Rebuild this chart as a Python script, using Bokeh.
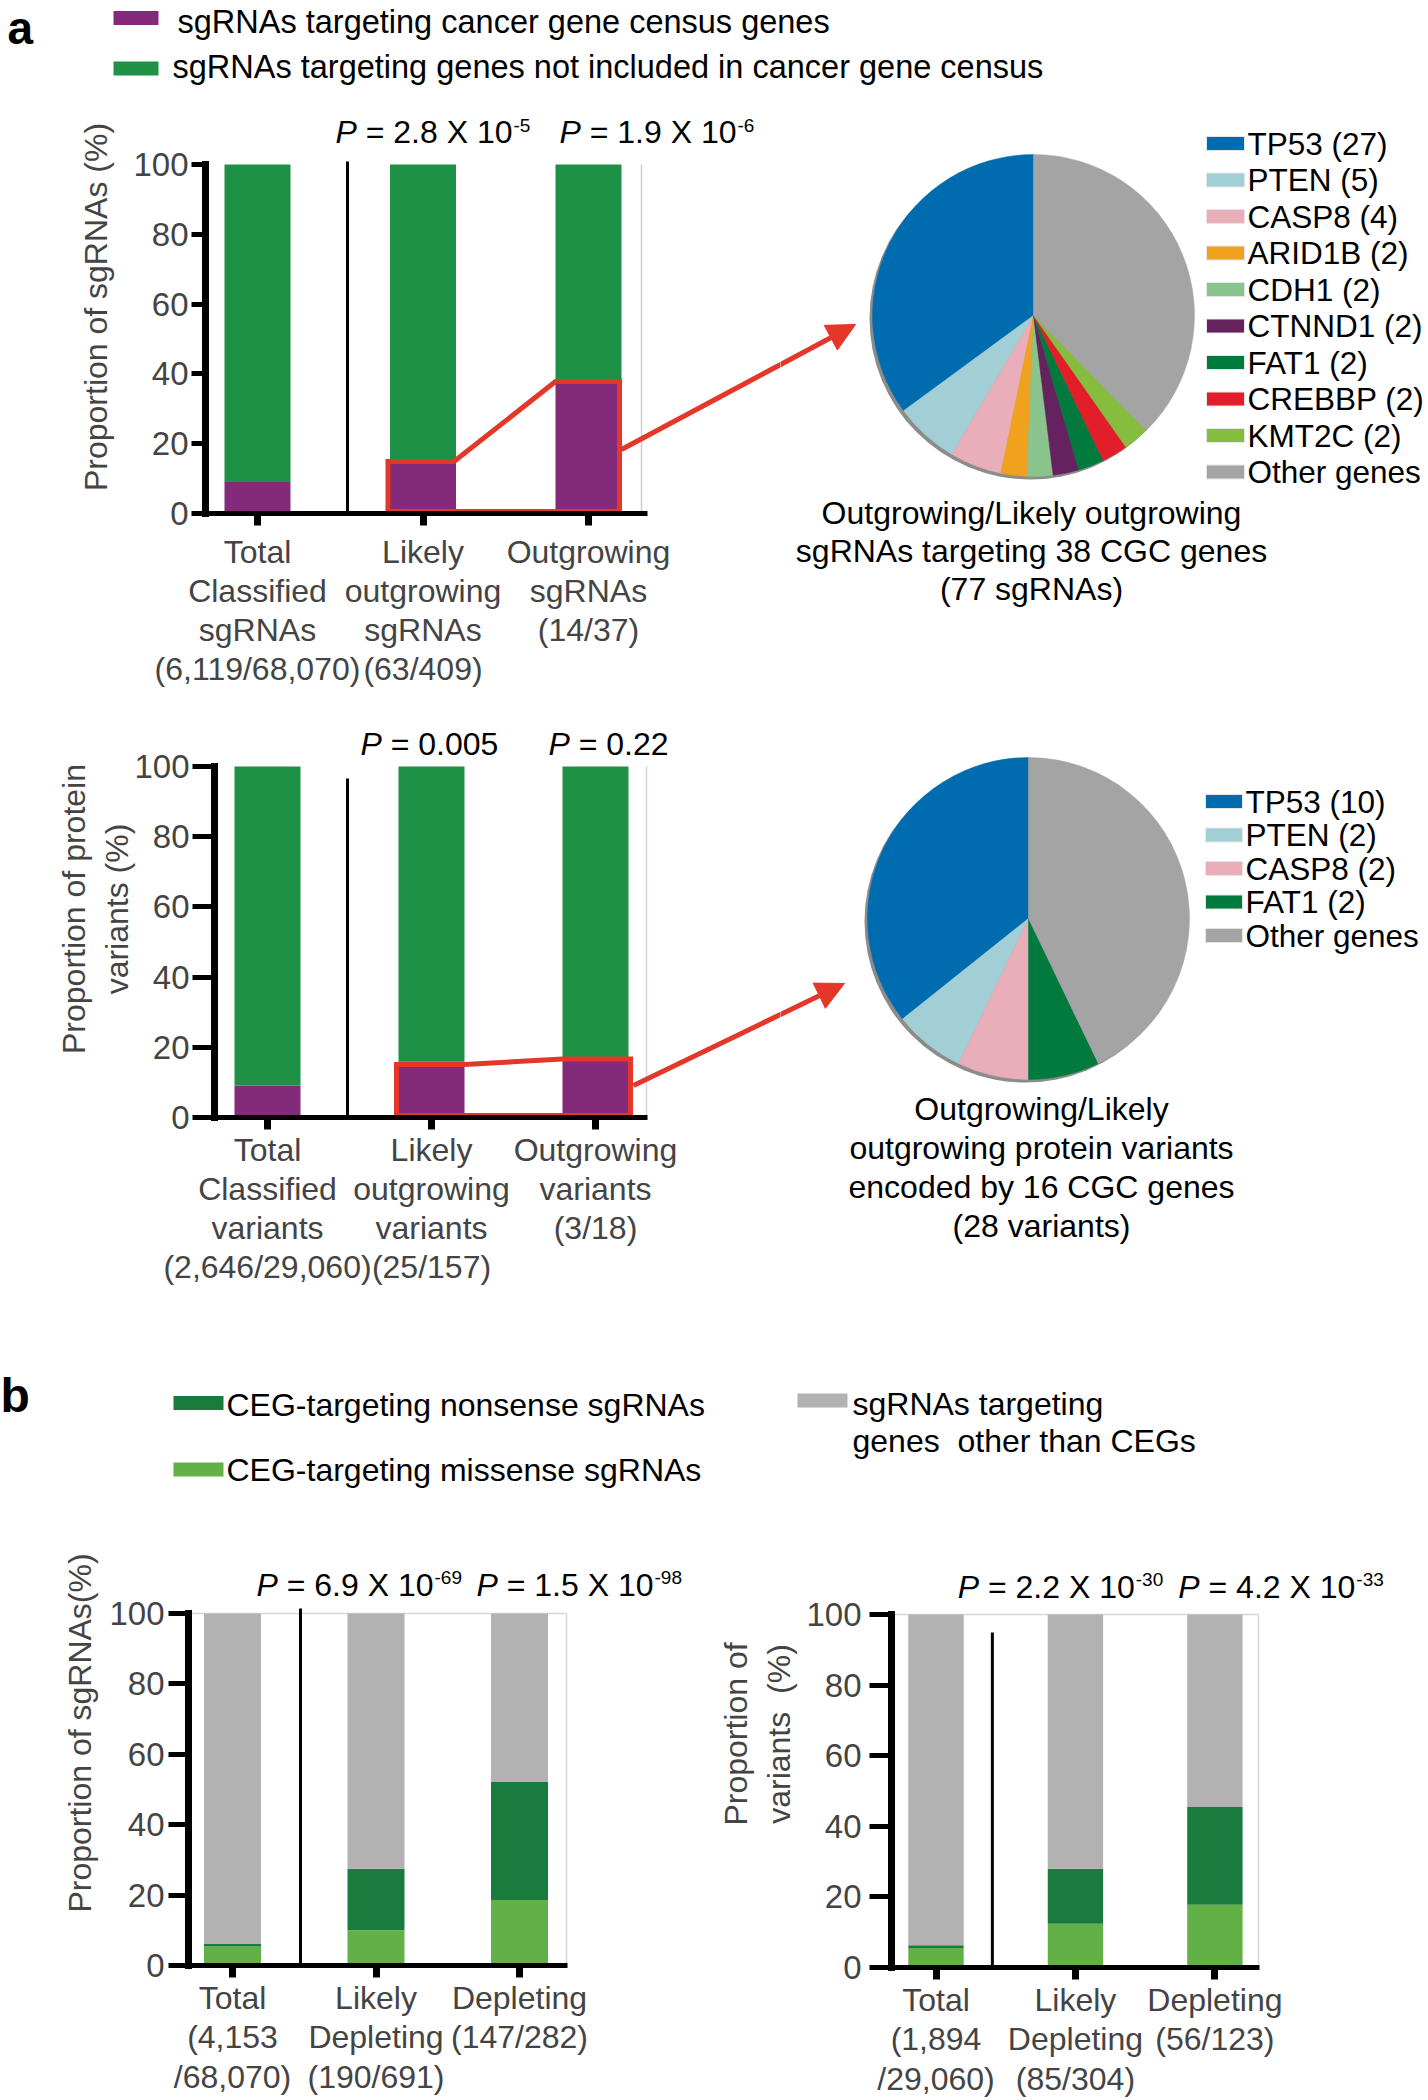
import numpy as np
from bokeh.plotting import figure
from bokeh.models import (Range1d, FixedTicker, Label, Arrow, NormalHead, ColumnDataSource)
from bokeh.layouts import row, column
from bokeh.embed import file_html
from bokeh.resources import INLINE
from bokeh.core.properties import value

FONT = "Liberation Sans"
NB = "\u00a0"

# ---------------------------------------------------------------- data
a1_labels = ["Total\nClassified\nsgRNAs\n(6,119/68,070)",
             "Likely\noutgrowing\nsgRNAs\n(63/409)",
             "Outgrowing\nsgRNAs\n(14/37)"]
a1_cgc = [9.0, 15.4, 37.8]            # % targeting cancer gene census genes
a1_p_mant = ["2.8", "1.9"]
a1_p_exp = ["-5", "-6"]
a_legend = ["sgRNAs targeting cancer gene census genes",
            "sgRNAs targeting genes not included in cancer gene census"]

a2_labels = ["Total\nClassified\nvariants\n(2,646/29,060)",
             "Likely\noutgrowing\nvariants\n(25/157)",
             "Outgrowing\nvariants\n(3/18)"]
a2_cgc = [9.1, 15.9, 16.7]
a2_p_mant = ["0.005", "0.22"]

pie1_genes = ["TP53", "PTEN", "CASP8", "ARID1B", "CDH1", "CTNND1", "FAT1",
              "CREBBP", "KMT2C", "Other genes"]
pie1_counts = [27, 5, 4, 2, 2, 2, 2, 2, 2, 29]
pie1_colors = ["#006cb0", "#a2cfd6", "#e9aeb9", "#f0a21f", "#88c48b",
               "#66215f", "#007a3d", "#e31e2b", "#87bd3f", "#a4a4a4"]
pie1_caption = ["Outgrowing/Likely outgrowing", "sgRNAs targeting 38 CGC genes",
                "(77 sgRNAs)"]

pie2_genes = ["TP53", "PTEN", "CASP8", "FAT1", "Other genes"]
pie2_counts = [10, 2, 2, 2, 12]
pie2_colors = ["#006cb0", "#a2cfd6", "#e9aeb9", "#007a3d", "#a4a4a4"]
pie2_caption = ["Outgrowing/Likely", "outgrowing protein variants",
                "encoded by 16 CGC genes", "(28 variants)"]

b1_labels = ["Total\n(4,153\n/68,070)", "Likely\nDepleting\n(190/691)",
             "Depleting\n(147/282)"]
b1_missense = [5.4, 10.0, 18.6]
b1_nonsense = [0.7, 17.5, 33.5]
b1_p_mant = ["6.9", "1.5"]
b1_p_exp = ["-69", "-98"]

b2_labels = ["Total\n(1,894\n/29,060)", "Likely\nDepleting\n(85/304)",
             "Depleting\n(56/123)"]
b2_missense = [5.5, 12.4, 17.8]
b2_nonsense = [0.8, 15.6, 27.7]
b2_p_mant = ["2.2", "4.2"]
b2_p_exp = ["-30", "-33"]
b_legend = ["CEG-targeting nonsense sgRNAs", "CEG-targeting missense sgRNAs",
            "sgRNAs targeting", "genes" + NB + " other than CEGs"]

PURPLE = "#842a7a"
GREEN_A = "#1e9147"
DKGREEN = "#1a7b3e"
LTGREEN = "#63b046"
GREY_B = "#b1b2b1"
RED = "#e4372a"

# Arial / Liberation Sans advance widths (per 1000 em)
AW = {'P': 667, ' ': 278, '=': 584, '.': 278, 'X': 667, '-': 333}
for _d in "0123456789":
    AW[_d] = 556


def tw(s, size):
    return sum(AW[c] for c in s) / 1000.0 * size


def noalign(p):
    try:
        p.frame_align = False
    except Exception:
        pass


def on_line(x, p0, p1):
    return p0[1] + (x - p0[0]) * (p1[1] - p0[1]) / (p1[0] - p0[0])


class Geo:
    """Layout of one bar panel, in page-pixel coordinates."""
    def __init__(self, fig_left, fig_top, width, height, L, axis_R, T, B, c1, c3, bw):
        self.fig_left, self.fig_top, self.width, self.height = fig_left, fig_top, width, height
        self.L, self.axis_R, self.T, self.B = L, axis_R, T, B
        self.c1, self.c3, self.bw = c1, c3, bw
        self.unit = (c3 - c1) / 2.0

    def X(self, px):
        return 1 + (px - self.c1) / self.unit

    def Y(self, py):
        return (self.B - py) / (self.B - self.T) * 100.0


def label(p, x, y, text, size="32px", style="normal", align="left",
          x_offset=0, y_offset=0, color="black"):
    p.add_layout(Label(x=x, y=y, text=text, x_offset=x_offset, y_offset=y_offset,
                       text_font=FONT, text_font_size=size, text_font_style=style,
                       text_align=align, text_baseline="middle", text_color=color))


def pval(p, g, px, py, mant, exp=None):
    x, y = g.X(px), g.Y(py)
    label(p, x, y, "P", style="italic")
    body = "= " + mant + (" X 10" if exp else "")
    off = tw("P ", 32)
    label(p, x, y, body, x_offset=off)
    if exp:
        label(p, x, y, exp, size="19px", x_offset=off + tw(body, 32) + 1, y_offset=7)


def bar_figure(g, xlabels, ytitle, ytick_out, ylab_standoff, ytitle_standoff,
               xlab_standoff, xlab_line_height, faint="#cdcdcd", faint_x=None, top_line=False):
    fig_right = g.fig_left + g.width
    p = figure(width=g.width, height=g.height,
               x_range=Range1d(g.X(g.L), g.X(fig_right)),
               y_range=Range1d(0, g.Y(g.fig_top)),
               output_backend="svg", toolbar_location=None, title=None,
               min_border_left=int(round(g.L - g.fig_left)), min_border_right=0,
               min_border_top=0,
               min_border_bottom=int(round(g.fig_top + g.height - g.B)))
    noalign(p)
    p.xgrid.visible = False
    p.ygrid.visible = False
    p.outline_line_color = None
    p.background_fill_color = "white"
    p.border_fill_color = "white"
    xr = g.X(faint_x if faint_x is not None else g.axis_R - 1)
    p.segment(x0=[xr], y0=[0], x1=[xr], y1=[100], line_color=faint, line_width=1.5)
    if top_line:
        p.segment(x0=[g.X(g.L)], y0=[100], x1=[xr], y1=[100], line_color=faint, line_width=1.5)
    ya = p.yaxis[0]
    ya.bounds = (0, 100)
    ya.ticker = FixedTicker(ticks=[0, 20, 40, 60, 80, 100])
    ya.axis_line_width = 7
    ya.axis_line_cap = "square"
    ya.major_tick_line_width = 5
    ya.major_tick_out = ytick_out
    ya.major_tick_in = 0
    ya.minor_tick_line_color = None
    ya.major_label_text_font = FONT
    ya.major_label_text_font_size = "33px"
    ya.major_label_standoff = ylab_standoff
    ya.axis_label = ytitle
    ya.axis_label_text_font = FONT
    ya.axis_label_text_font_size = "32px"
    ya.axis_label_text_font_style = "normal"
    ya.axis_label_standoff = ytitle_standoff
    xa = p.xaxis[0]
    xa.bounds = (g.X(g.L), g.X(g.axis_R))
    xa.ticker = FixedTicker(ticks=[1, 2, 3])
    xa.major_label_overrides = {1: xlabels[0], 2: xlabels[1], 3: xlabels[2]}
    xa.axis_line_width = 5
    xa.major_tick_line_width = 7
    xa.major_tick_out = 12
    xa.major_tick_in = 0
    xa.minor_tick_line_color = None
    xa.major_label_text_font = FONT
    xa.major_label_text_font_size = "32px"
    xa.major_label_standoff = xlab_standoff
    xa.major_label_text_line_height = xlab_line_height
    return p


def blank_figure(fig_left, fig_top, width, height):
    p = figure(width=width, height=height,
               x_range=Range1d(fig_left, fig_left + width), y_range=Range1d(0, height),
               output_backend="svg", toolbar_location=None, title=None,
               x_axis_location=None, y_axis_location=None, min_border=0)
    noalign(p)
    p.grid.visible = False
    p.outline_line_color = None
    p.background_fill_color = "white"
    p.border_fill_color = "white"
    return p


def txt(p, xs, ys, texts, size="32px", style="normal", align="left"):
    p.text(x=xs, y=ys, text=texts, text_font=value(FONT), text_font_size=value(size),
           text_font_style=style, text_baseline="middle", text_align=align)


XS = [1, 2, 3]
PAGE_W = 1428
SPLIT_A = 780        # boundary between bar panels and pie panels in part a

# ================================================================ header a
hA_top, hA_h = 0, 100
hA = blank_figure(0, hA_top, PAGE_W, hA_h)
YA = lambda py: hA_top + hA_h - py
txt(hA, [7], [YA(27)], ["a"], size="46px", style="bold")
hA.rect(x=[135.5, 135.5], y=[YA(17.5), YA(68)], width=45, height=14,
        fill_color=[PURPLE, GREEN_A], line_color=None)
txt(hA, [177, 172], [YA(21), YA(66.5)], a_legend, size="32.5px")

# ================================================================ a (top)
g1 = Geo(0, 100, SPLIT_A, 600, L=205, axis_R=647, T=164, B=513, c1=257, c3=588, bw=66)
pa1 = bar_figure(g1, a1_labels, "Proportion of sgRNAs (%)", 14, 3, 16, 8, 1.09, faint_x=641)
bw1 = g1.bw / g1.unit
src = ColumnDataSource(dict(x=XS, cgc=a1_cgc, top=[100] * 3))
pa1.vbar(x="x", bottom=0, top="cgc", width=bw1, source=src, fill_color=PURPLE, line_color=None)
pa1.vbar(x="x", bottom="cgc", top="top", width=bw1, source=src, fill_color=GREEN_A, line_color=None)
pa1.segment(x0=[g1.X(347)], y0=[0], x1=[g1.X(347)], y1=[g1.Y(161)],
            line_color="black", line_width=3)
pad = 2 / g1.unit
pa1.patch(x=[2 - bw1 / 2 - pad, 2 - bw1 / 2 - pad, 2 + bw1 / 2 - pad, 3 - bw1 / 2,
             3 + bw1 / 2 - pad, 3 + bw1 / 2 - pad],
          y=[0.6, a1_cgc[1] - 0.5, a1_cgc[1] - 0.5, a1_cgc[2], a1_cgc[2], 0.6],
          fill_alpha=0, line_color=RED, line_width=5, line_join="miter")
arrA0, arrA1 = (621, 449), (855, 324)
pa1.segment(x0=[g1.X(arrA0[0])], y0=[g1.Y(arrA0[1])],
            x1=[g1.X(SPLIT_A + 4)], y1=[g1.Y(on_line(SPLIT_A + 4, arrA0, arrA1))],
            line_color=RED, line_width=5)
pval(pa1, g1, 335, 131.5, a1_p_mant[0], a1_p_exp[0])
pval(pa1, g1, 559, 131.5, a1_p_mant[1], a1_p_exp[1])

# ================================================================ a (bottom)
g2 = Geo(0, 700, SPLIT_A, 630, L=214, axis_R=647, T=766, B=1117, c1=267, c3=595, bw=66)
pa2 = bar_figure(g2, a2_labels, "Proportion of protein\nvariants (%)", 22, 3, -4, 2, 1.09,
                 faint="#dccfd8")
bw2 = g2.bw / g2.unit
src2 = ColumnDataSource(dict(x=XS, cgc=a2_cgc, top=[100] * 3))
pa2.vbar(x="x", bottom=0, top="cgc", width=bw2, source=src2, fill_color=PURPLE, line_color=None)
pa2.vbar(x="x", bottom="cgc", top="top", width=bw2, source=src2, fill_color=GREEN_A, line_color=None)
pa2.segment(x0=[g2.X(347)], y0=[0], x1=[g2.X(347)], y1=[g2.Y(778)],
            line_color="black", line_width=3)
pad = 2 / g2.unit
pa2.patch(x=[2 - bw2 / 2 - pad, 2 - bw2 / 2 - pad, 2 + bw2 / 2, 3 - bw2 / 2,
             3 + bw2 / 2 + pad, 3 + bw2 / 2 + pad],
          y=[0.6, a2_cgc[1] - 0.8, a2_cgc[1] - 0.8, a2_cgc[2], a2_cgc[2], 0.6],
          fill_alpha=0, line_color=RED, line_width=5, line_join="miter")
arrB0, arrB1 = (633, 1085), (844, 983)
pa2.segment(x0=[g2.X(arrB0[0])], y0=[g2.Y(arrB0[1])],
            x1=[g2.X(SPLIT_A + 4)], y1=[g2.Y(on_line(SPLIT_A + 4, arrB0, arrB1))],
            line_color=RED, line_width=5)
pval(pa2, g2, 360, 743, a2_p_mant[0])
pval(pa2, g2, 548, 743, a2_p_mant[1])


# ================================================================ pies
def pie_figure(fig_left, fig_top, width, height, counts, genes, colors, cx, cy, r,
               leg_x, leg_y0, leg_dy, sw_w, caption, cap_x, cap_y0, cap_dy, arrow):
    p = blank_figure(fig_left, fig_top, width, height)

    def Y(py):
        return fig_top + height - py

    c = np.array(counts, dtype=float)
    ends = np.pi / 2 + 2 * np.pi * np.cumsum(c) / c.sum()
    starts = np.concatenate([[np.pi / 2], ends[:-1]])
    n = len(counts)
    p.circle(x=[cx - 3], y=[Y(cy) - 3], radius=r, fill_color="#8c8c8c", line_color=None)
    ws = ColumnDataSource(dict(x=[cx] * n, y=[Y(cy)] * n, s=starts, e=ends, color=colors))
    p.wedge(x="x", y="y", radius=r, start_angle="s", end_angle="e", source=ws,
            fill_color="color", line_color="color", line_width=0.5)
    labels = ["%s (%d)" % (gname, cnt) for gname, cnt in zip(genes[:-1], counts[:-1])] + [genes[-1]]
    ly = [Y(leg_y0 + i * leg_dy) for i in range(n)]
    p.rect(x=[leg_x - 3 - sw_w / 2] * n, y=ly, width=sw_w, height=14,
           fill_color=colors, line_color="#e6e6e6", line_width=1)
    txt(p, [leg_x] * n, ly, labels, size="31.5px")
    m = len(caption)
    txt(p, [cap_x] * m, [Y(cap_y0 + i * cap_dy) for i in range(m)], caption, align="center")
    a0, a1 = arrow
    xs0 = fig_left - 4
    p.add_layout(Arrow(x_start=xs0, y_start=Y(on_line(xs0, a0, a1)), x_end=a1[0], y_end=Y(a1[1]),
                       line_color=RED, line_width=5,
                       end=NormalHead(size=28, fill_color=RED, line_color=RED, line_width=1)))
    return p


pp1 = pie_figure(SPLIT_A, 100, PAGE_W - SPLIT_A, 600, pie1_counts, pie1_genes, pie1_colors,
                 1033, 315, 161, 1247, 143, 36.5, 38, pie1_caption, 1031, 512, 38,
                 (arrA0, arrA1))
pp2 = pie_figure(SPLIT_A, 700, PAGE_W - SPLIT_A, 630, pie2_counts, pie2_genes, pie2_colors,
                 1028, 918, 161, 1245, 801, 33.5, 37, pie2_caption, 1041, 1108, 39.3,
                 (arrB0, arrB1))

# ================================================================ header b
hB_top, hB_h = 1330, 170
hB = blank_figure(0, hB_top, PAGE_W, hB_h)
YB = lambda py: hB_top + hB_h - py
txt(hB, [0], [YB(1395)], ["b"], size="48px", style="bold")
hB.rect(x=[198, 198, 822], y=[YB(1402.5), YB(1469), YB(1400)], width=50, height=14,
        fill_color=[DKGREEN, LTGREEN, GREY_B], line_color=None)
txt(hB, [226, 226, 852, 852], [YB(1404.5), YB(1469.5), YB(1403.5), YB(1440.5)], b_legend)

# ================================================================ b (left)
SPLIT_B = 715
g3 = Geo(0, 1500, SPLIT_B, 599, L=188, axis_R=567, T=1613, B=1965, c1=232, c3=519, bw=57)
pb1 = bar_figure(g3, b1_labels, "Proportion of sgRNAs(%)", 20, 4, 8, 2, 1.1,
                 faint="#d6d6d6", top_line=True)
bw3 = g3.bw / g3.unit
m1 = np.array(b1_missense)
n1 = np.array(b1_nonsense)
s3 = ColumnDataSource(dict(x=XS, m=m1, mn=m1 + n1, top=[100] * 3))
pb1.vbar(x="x", bottom=0, top="m", width=bw3, source=s3, fill_color=LTGREEN, line_color=None)
pb1.vbar(x="x", bottom="m", top="mn", width=bw3, source=s3, fill_color=DKGREEN, line_color=None)
pb1.vbar(x="x", bottom="mn", top="top", width=bw3, source=s3, fill_color=GREY_B, line_color=None)
pb1.segment(x0=[g3.X(300)], y0=[0], x1=[g3.X(300)], y1=[g3.Y(1608)],
            line_color="black", line_width=3)
pval(pb1, g3, 256, 1584, b1_p_mant[0], b1_p_exp[0])
pval(pb1, g3, 476, 1584, b1_p_mant[1], b1_p_exp[1])

# ================================================================ b (right)
g4 = Geo(SPLIT_B, 1500, PAGE_W - SPLIT_B, 599, L=885, axis_R=1257, T=1614, B=1967,
         c1=930, c3=1212, bw=56)
pb2 = bar_figure(g4, b2_labels, "Proportion of\nvariants" + NB + " (%)", 22, 8, 6, 2, 1.1,
                 faint="#d6d6d6", top_line=True)
bw4 = g4.bw / g4.unit
m2 = np.array(b2_missense)
n2 = np.array(b2_nonsense)
s4 = ColumnDataSource(dict(x=XS, m=m2, mn=m2 + n2, top=[100] * 3))
pb2.vbar(x="x", bottom=0, top="m", width=bw4, source=s4, fill_color=LTGREEN, line_color=None)
pb2.vbar(x="x", bottom="m", top="mn", width=bw4, source=s4, fill_color=DKGREEN, line_color=None)
pb2.vbar(x="x", bottom="mn", top="top", width=bw4, source=s4, fill_color=GREY_B, line_color=None)
pb2.segment(x0=[g4.X(987)], y0=[0], x1=[g4.X(987)], y1=[g4.Y(1632)],
            line_color="black", line_width=3)
pval(pb2, g4, 952, 1586, b2_p_mant[0], b2_p_exp[0])
pval(pb2, g4, 1175, 1586, b2_p_mant[1], b2_p_exp[1])

layout = column(hA, row(pa1, pp1), row(pa2, pp2), hB, row(pb1, pb2))
open("out.html", "w").write(file_html(layout, INLINE))
